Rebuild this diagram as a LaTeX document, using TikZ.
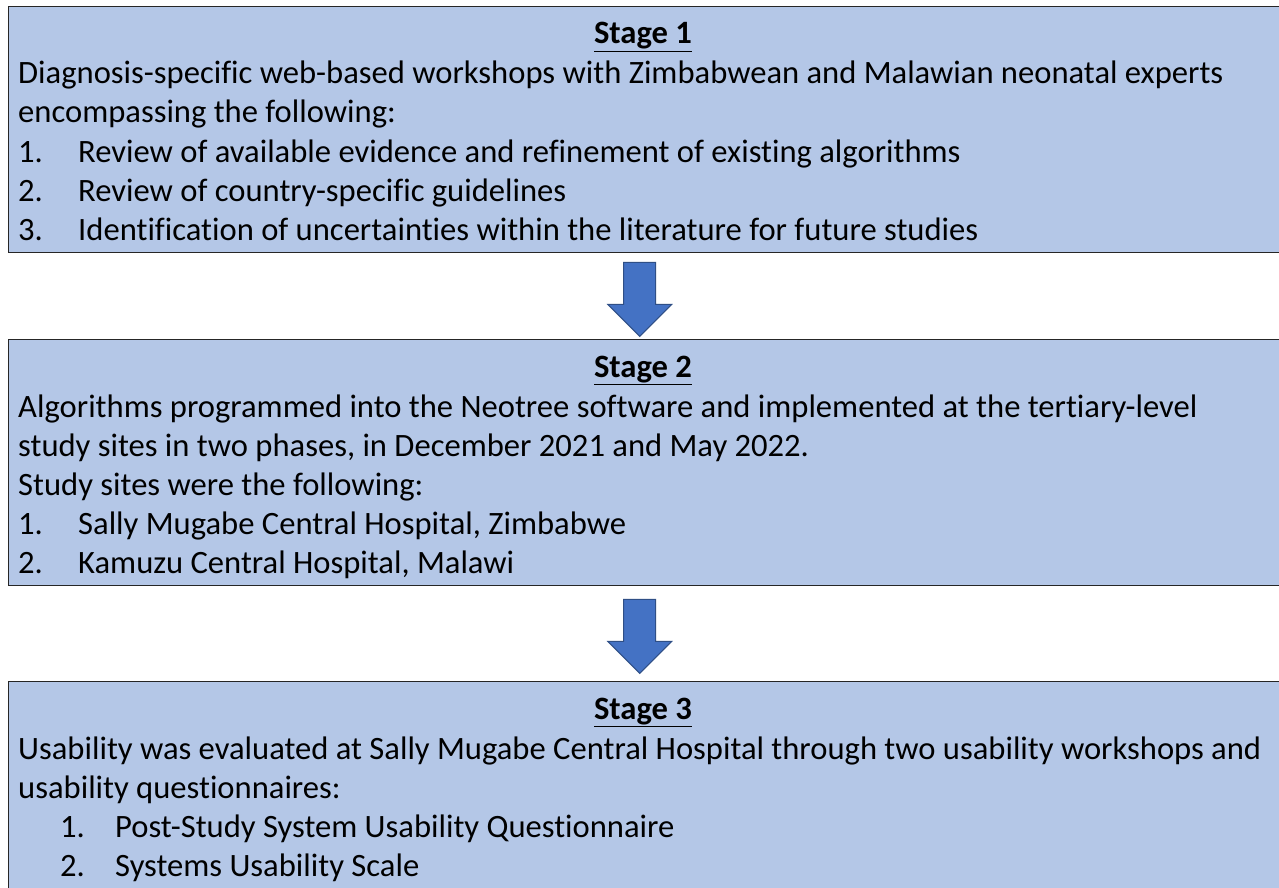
\documentclass[tikz,border=0pt]{standalone}
\usepackage{fontspec}
\setmainfont{Carlito}[Ligatures={NoCommon}]
\usepackage{tikz}
\usetikzlibrary{calc}

\definecolor{boxfill}{HTML}{B4C7E7}
\definecolor{arrowfill}{HTML}{4472C4}
\definecolor{arrowline}{HTML}{2F4F86}

\tikzset{
  stagebox/.style={draw=black!85, line width=1.4pt, fill=boxfill, rectangle,
    anchor=north west, minimum width=1271pt, inner sep=0pt},
  line/.style={anchor=base west, inner sep=0pt, font=\fontsize{32.6}{39}\selectfont},
  head/.style={anchor=base, inner sep=0pt, font=\fontsize{32.6}{39}\selectfont\bfseries},
  blockarrow/.style={draw=arrowline, line width=1pt, fill=arrowfill, line join=miter}
}

\newcommand{\stagearrow}[2]{%
  \draw[blockarrow] ([xshift=-4.5pt,yshift=-#2pt]#1.south) ++(-16,0) -- ++(32,0) -- ++(0,42)
    -- ++(16,0) -- ++(-32,32) -- ++(-32,-32) -- ++(16,0) -- cycle;}
\newcommand{\stagetitle}[1]{\underline{#1}}

\begin{document}
\begin{tikzpicture}[x=1pt, y=-1pt]
\useasboundingbox (0,0) rectangle (1279,888);
\clip (0,0) rectangle (1279,888);
\fill[white] (0,0) rectangle (1279,888);

% boxes
\node[stagebox, minimum height=246pt] (box1) at (8,6) {};
\node[stagebox, minimum height=246pt] (box2) at (8,339) {};
\node[stagebox, minimum height=240pt] (box3) at (8,681) {};

% stage 1
\node[head] (h1) at (643,44) {\stagetitle{Stage 1}};
\node[line] (s1a) at (18,84) {Diagnosis-specific web-based workshops with Zimbabwean and Malawian neonatal experts};
\node[line] (s1b) at (18,123) {encompassing the following:};
\node[line] (s1n1) at (18,162) {1.};
\node[line] (s1i1) at (78,162) {Review of available evidence and refinement of existing algorithms};
\node[line] (s1n2) at (18,201) {2.};
\node[line] (s1i2) at (78,201) {Review of country-specific guidelines};
\node[line] (s1n3) at (18,240) {3.};
\node[line] (s1i3) at (78,240) {Identification of uncertainties within the literature for future studies};

% stage 2
\node[head] (h2) at (643,377) {\stagetitle{Stage 2}};
\node[line] (s2a) at (18,417) {Algorithms programmed into the Neotree software and implemented at the tertiary-level};
\node[line] (s2b) at (18,456) {study sites in two phases, in December 2021 and May 2022.};
\node[line] (s2c) at (18,495) {Study sites were the following:};
\node[line] (s2n1) at (18,534) {1.};
\node[line] (s2i1) at (78,534) {Sally Mugabe Central Hospital, Zimbabwe};
\node[line] (s2n2) at (18,573) {2.};
\node[line] (s2i2) at (78,573) {Kamuzu Central Hospital, Malawi};

% stage 3
\node[head] (h3) at (643,719) {\stagetitle{Stage 3}};
\node[line] (s3a) at (18,759) {Usability was evaluated at Sally Mugabe Central Hospital through two usability workshops and};
\node[line] (s3b) at (18,798) {usability questionnaires:};
\node[line] (s3n1) at (60,837) {1.};
\node[line] (s3i1) at (115,837) {Post-Study System Usability Questionnaire};
\node[line] (s3n2) at (60,876) {2.};
\node[line] (s3i2) at (115,876) {Systems Usability Scale};

% arrows
\stagearrow{box1}{9}
\stagearrow{box2}{13}
\end{tikzpicture}
\end{document}
